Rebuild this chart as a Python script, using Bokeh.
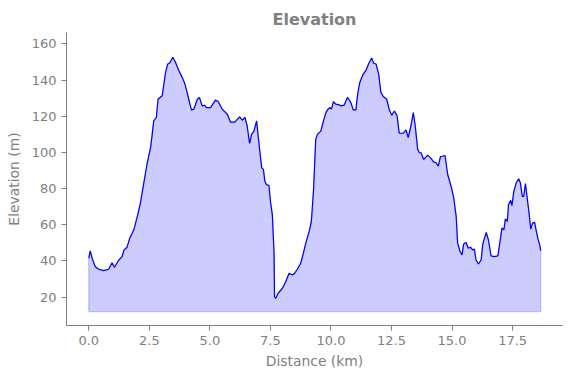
from bokeh.plotting import figure
from bokeh.models import FixedTicker, Range1d, CustomJSTickFormatter
from bokeh.embed import file_html
from bokeh.resources import INLINE

distance_km = [0.00, 0.06, 0.15, 0.27, 0.41, 0.61, 0.82, 0.96, 1.06, 1.24, 1.38, 1.45, 1.58, 1.69, 1.86,
               2.02, 2.13, 2.27, 2.41, 2.55, 2.61, 2.68, 2.79, 2.86, 3.03, 3.09, 3.17, 3.26, 3.34, 3.47,
               3.58, 3.72, 3.86, 3.97, 4.06, 4.16, 4.24, 4.34, 4.48, 4.57, 4.68, 4.79, 4.85, 5.03, 5.23,
               5.35, 5.51, 5.72, 5.85, 6.03, 6.13, 6.23, 6.34, 6.45, 6.54, 6.64, 6.72, 6.82, 6.93, 6.98,
               7.07, 7.14, 7.21, 7.27, 7.34, 7.44, 7.51, 7.58, 7.65, 7.67, 7.72, 7.81, 7.99, 8.13, 8.27,
               8.41, 8.50, 8.61, 8.75, 8.86, 8.96, 9.10, 9.19, 9.28, 9.37, 9.44, 9.58, 9.69, 9.79, 9.88,
               9.96, 10.02, 10.10, 10.20, 10.34, 10.41, 10.54, 10.68, 10.82, 10.92, 11.03, 11.10, 11.19,
               11.33, 11.44, 11.55, 11.68, 11.76, 11.86, 11.97, 12.06, 12.16, 12.30, 12.41, 12.51, 12.62,
               12.73, 12.82, 12.99, 13.10, 13.19, 13.30, 13.40, 13.48, 13.58, 13.65, 13.72, 13.83, 13.99,
               14.13, 14.24, 14.34, 14.43, 14.52, 14.61, 14.71, 14.82, 14.96, 15.07, 15.17, 15.23, 15.33,
               15.41, 15.48, 15.58, 15.67, 15.76, 15.85, 15.92, 15.99, 16.09, 16.20, 16.27, 16.41, 16.50,
               16.61, 16.75, 16.89, 17.00, 17.06, 17.14, 17.20, 17.28, 17.33, 17.42, 17.47, 17.55, 17.65,
               17.75, 17.82, 17.90, 17.96, 18.03, 18.11, 18.18, 18.25, 18.32, 18.41, 18.48, 18.55, 18.62,
               18.66]
elevation_m = [41.5, 45.5, 41.0, 36.8, 35.4, 34.6, 35.4, 39.0, 36.5, 40.5, 42.4, 46.0, 47.6, 52.6, 57.2,
               65.5, 72.0, 83.0, 94.0, 102.6, 109.0, 117.4, 119.3, 129.4, 131.3, 136.8, 144.3, 148.9, 149.4, 152.6,
               149.8, 145.2, 141.5, 137.8, 133.2, 127.6, 123.5, 123.9, 129.4, 130.4, 125.7, 126.1, 124.8, 124.8, 128.9,
               128.0, 123.9, 121.1, 116.8, 116.8, 118.3, 119.6, 117.8, 119.3, 114.6, 105.0, 110.0, 111.8, 117.4, 111.0,
               99.8, 91.5, 90.6, 84.1, 82.2, 81.7, 72.0, 65.5, 44.3, 20.2, 19.3, 22.0, 24.8, 28.5, 33.2,
               32.2, 33.2, 35.4, 38.7, 44.3, 49.8, 56.3, 61.8, 79.4, 107.2, 110.0, 111.8, 117.4, 122.0, 123.9,
               124.8, 123.9, 128.0, 126.7, 126.3, 125.7, 126.1, 130.4, 127.6, 123.5, 123.5, 132.2, 138.7,
               143.3, 145.2, 148.9, 152.2, 149.3, 148.9, 143.3, 133.2, 130.9, 129.4, 123.5, 120.6, 122.9,
               120.2, 110.6, 110.6, 112.4, 108.2, 114.6, 122.0, 114.6, 101.7, 99.8, 99.8, 96.1, 98.5,
               96.7, 94.8, 94.3, 92.4, 97.6, 97.9, 98.3, 87.8, 81.3, 74.8, 64.6, 49.8, 45.2,
               43.3, 49.4, 50.2, 47.0, 47.6, 46.1, 46.5, 40.5, 38.3, 40.5, 49.4, 55.7, 51.7,
               42.8, 42.4, 42.8, 52.6, 58.2, 57.2, 63.2, 61.8, 71.0, 73.5, 70.6, 78.5, 83.2,
               85.4, 83.2, 75.7, 75.7, 82.8, 73.9, 66.5, 57.6, 60.9, 61.3, 56.3, 52.0, 48.9,
               45.7]
fill_base_m = 12.0
x_ticks = [0.0, 2.5, 5.0, 7.5, 10.0, 12.5, 15.0, 17.5]
y_ticks = [20, 40, 60, 80, 100, 120, 140, 160]

GRAY = "#808080"

p = figure(width=571, height=378, output_backend="svg", toolbar_location=None,
           x_range=Range1d(-0.92, 19.56), y_range=Range1d(4.3, 166.3),
           min_border_left=66, min_border_right=9, min_border_top=32, min_border_bottom=53,
           title="Elevation")
p.outline_line_color = None
p.grid.visible = False
p.background_fill_color = "white"

p.title.align = "center"
p.title.text_color = GRAY
p.title.text_font = "DejaVu Sans"
p.title.text_font_size = "16px"
p.title.text_font_style = "bold"
p.title.standoff = 7
p.title.offset = 0

# area
px = [distance_km[0]] + distance_km + [distance_km[-1]]
py = [fill_base_m] + elevation_m + [fill_base_m]
p.patch(px, py, fill_color="blue", fill_alpha=0.2, line_color="blue", line_alpha=0.2, line_width=1.3)
p.line(distance_km, elevation_m, line_color="blue", line_width=1.2)

for ax in (p.xaxis[0], p.yaxis[0]):
    ax.axis_line_color = GRAY
    ax.axis_line_width = 1
    ax.major_tick_line_color = GRAY
    ax.major_tick_out = 5
    ax.major_tick_in = 0
    ax.minor_tick_line_color = None
    ax.major_label_text_color = GRAY
    ax.major_label_text_font = "DejaVu Sans"
    ax.major_label_text_font_size = "13px"
    ax.major_label_standoff = 5
    ax.axis_label_text_color = GRAY
    ax.axis_label_text_font = "DejaVu Sans"
    ax.axis_label_text_font_size = "13.9px"
    ax.axis_label_text_font_style = "normal"

p.xaxis.ticker = FixedTicker(ticks=x_ticks)
p.xaxis.formatter = CustomJSTickFormatter(code="return tick.toFixed(1);")
p.yaxis.ticker = FixedTicker(ticks=y_ticks)
p.xaxis.axis_label = "Distance (km)"
p.yaxis.axis_label = "Elevation (m)"
p.xaxis.axis_label_standoff = 5
p.yaxis.axis_label_standoff = 7

open("out.html", "w").write(file_html(p, INLINE))
